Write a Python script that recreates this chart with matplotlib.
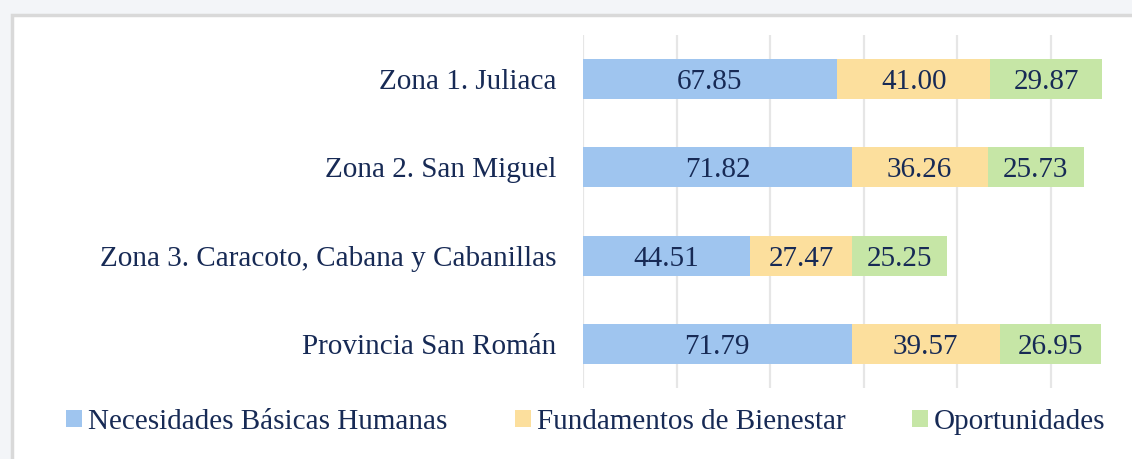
import matplotlib
matplotlib.use("Agg")
import matplotlib.pyplot as plt
from matplotlib.patches import Patch, Rectangle
import numpy as np

categories = ["Zona 1. Juliaca", "Zona 2. San Miguel",
              "Zona 3. Caracoto, Cabana y Cabanillas", "Provincia San Román"]
series_names = ["Necesidades Básicas Humanas", "Fundamentos de Bienestar", "Oportunidades"]
necesidades = [67.85, 71.82, 44.51, 71.79]
fundamentos = [41.00, 36.26, 27.47, 39.57]
oportunidades = [29.87, 25.73, 25.25, 26.95]
colors = ["#9fc5ef", "#fcdf9d", "#c6e6a6"]
text_color = "#172a55"

plt.rcParams['font.family'] = ['Liberation Serif', 'DejaVu Serif']

W, H = 1132, 459
fig = plt.figure(figsize=(W / 100, H / 100), dpi=100)
fig.patch.set_facecolor("#f3f5f8")

# chart frame
frame = Rectangle((12 / W, -0.05), 1.2, 1 - 15 / H + 0.05, transform=fig.transFigure,
                  facecolor="white", edgecolor="#d9d9d9", linewidth=2.5, zorder=-5)
fig.patches.append(frame)

ax = fig.add_axes([583 / W, 1 - 388 / H, (1107 - 583) / W, (388 - 35) / H])
ax.set_facecolor("none")
ax.set_zorder(2)

y = np.arange(len(categories))
left = np.zeros(len(categories))
for vals, col, name in zip([necesidades, fundamentos, oportunidades], colors, series_names):
    bars = ax.barh(y, vals, left=left, height=0.455, color=col, label=name, zorder=3)
    for b, v in zip(bars, vals):
        ax.annotate(f"{v:.2f}", xy=(b.get_x() + b.get_width() / 2, b.get_y() + b.get_height() / 2),
                    xytext=(0, -7.2), textcoords="offset points",
                    ha="center", va="baseline", fontsize=21, color=text_color, zorder=4)
    left += np.array(vals)

ax.set_xlim(0, 140)
ax.set_ylim(len(categories) - 0.5, -0.5)
ax.set_xticks([0, 25, 50, 75, 100, 125])
ax.xaxis.grid(True, color="#e6e6e6", linewidth=1.6, zorder=0)
ax.set_axisbelow(True)
ax.tick_params(axis="x", length=0, labelbottom=False)
ax.set_yticks(y)
ax.set_yticklabels(categories, fontsize=21, color=text_color)
ax.tick_params(axis="y", length=0, pad=19)
for s in ax.spines.values():
    s.set_visible(False)

handles = [Patch(facecolor=c, edgecolor="none") for c in colors]
leg = fig.legend(handles, series_names, loc="center", bbox_to_anchor=(586 / W, 1 - 422 / H),
                 ncol=3, frameon=False, fontsize=21, labelcolor=text_color,
                 handlelength=0.55, handleheight=0.55, handletextpad=0.2, columnspacing=2.3)
leg.set_zorder(3)

fig.savefig("out.png", dpi=100, facecolor=fig.get_facecolor())
